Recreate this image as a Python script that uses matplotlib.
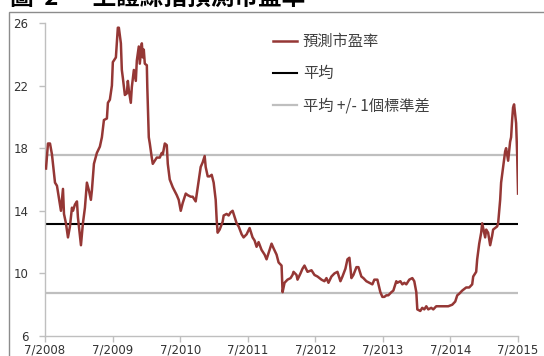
import matplotlib
matplotlib.use("Agg")
import matplotlib.pyplot as plt
from matplotlib.patches import Rectangle

plt.rcParams['font.family'] = ['Noto Sans CJK TC', 'DejaVu Sans']

# decimal year of each reading and forward P/E
years = [2008.515, 2008.544, 2008.574, 2008.603, 2008.648, 2008.677, 2008.707, 2008.736, 2008.766, 2008.781,
         2008.810, 2008.840, 2008.869, 2008.899, 2008.914, 2008.943, 2008.973, 2008.987, 2009.032, 2009.061,
         2009.091, 2009.120, 2009.150, 2009.179, 2009.194, 2009.224, 2009.268, 2009.312, 2009.342, 2009.372,
         2009.416, 2009.431, 2009.460, 2009.490, 2009.504, 2009.549, 2009.578, 2009.593, 2009.623, 2009.637,
         2009.652, 2009.682, 2009.711, 2009.726, 2009.741, 2009.770, 2009.785, 2009.815, 2009.844, 2009.859,
         2009.888, 2009.903, 2009.933, 2009.948, 2009.962, 2009.977, 2010.007, 2010.014, 2010.036, 2010.051,
         2010.080, 2010.095, 2010.125, 2010.154, 2010.199, 2010.228, 2010.243, 2010.273, 2010.302, 2010.317,
         2010.346, 2010.391, 2010.450, 2010.479, 2010.509, 2010.538, 2010.583, 2010.612, 2010.657, 2010.686,
         2010.730, 2010.760, 2010.804, 2010.834, 2010.863, 2010.878, 2010.908, 2010.937, 2010.967, 2010.996,
         2011.026, 2011.041, 2011.055, 2011.085, 2011.129, 2011.144, 2011.188, 2011.218, 2011.247, 2011.277,
         2011.306, 2011.336, 2011.366, 2011.410, 2011.439, 2011.484, 2011.528, 2011.572, 2011.602, 2011.631,
         2011.661, 2011.705, 2011.750, 2011.779, 2011.809, 2011.853, 2011.883, 2011.927, 2011.957, 2012.001,
         2012.016, 2012.045, 2012.089, 2012.134, 2012.163, 2012.178, 2012.222, 2012.237, 2012.281, 2012.311,
         2012.340, 2012.385, 2012.444, 2012.488, 2012.533, 2012.592, 2012.636, 2012.665, 2012.695, 2012.739,
         2012.784, 2012.828, 2012.872, 2012.902, 2012.946, 2012.976, 2013.005, 2013.035, 2013.064, 2013.109,
         2013.138, 2013.182, 2013.212, 2013.256, 2013.301, 2013.345, 2013.374, 2013.419, 2013.463, 2013.493,
         2013.522, 2013.552, 2013.581, 2013.626, 2013.655, 2013.699, 2013.714, 2013.759, 2013.788, 2013.818,
         2013.847, 2013.891, 2013.936, 2013.965, 2013.995, 2014.010, 2014.054, 2014.083, 2014.113, 2014.143,
         2014.172, 2014.216, 2014.246, 2014.290, 2014.320, 2014.379, 2014.423, 2014.468, 2014.527, 2014.571,
         2014.601, 2014.630, 2014.674, 2014.733, 2014.778, 2014.822, 2014.837, 2014.881, 2014.896, 2014.926,
         2014.955, 2014.970, 2014.985, 2015.014, 2015.029, 2015.058, 2015.088, 2015.117, 2015.132, 2015.162,
         2015.191, 2015.206, 2015.236, 2015.250, 2015.280, 2015.310, 2015.324, 2015.354, 2015.383, 2015.398,
         2015.413, 2015.427, 2015.442, 2015.472, 2015.487, 2015.501]

pe = [16.7, 18.3, 18.3, 17.6, 15.8, 15.6, 14.8, 14.0, 15.4, 13.8,
      13.2, 12.3, 13.0, 14.2, 14.0, 14.4, 14.6, 13.6, 11.8, 13.2,
      14.2, 15.8, 15.3, 14.7, 15.3, 17.0, 17.7, 18.1, 18.7, 19.8,
      19.9, 20.9, 21.1, 22.0, 23.5, 23.8, 25.7, 25.7, 24.7, 23.0,
      22.5, 21.4, 21.5, 22.3, 21.7, 20.9, 21.9, 23.0, 22.3, 23.6,
      24.5, 23.4, 24.7, 23.8, 24.3, 23.4, 23.3, 21.9, 18.7, 18.3,
      17.4, 17.0, 17.2, 17.4, 17.4, 17.7, 17.6, 18.3, 18.2, 17.0,
      16.0, 15.5, 15.0, 14.7, 14.0, 14.5, 15.1, 15.0, 14.9, 14.9,
      14.6, 15.5, 16.8, 17.1, 17.5, 16.8, 16.2, 16.2, 16.3, 15.8,
      14.7, 13.4, 12.6, 12.8, 13.3, 13.7, 13.8, 13.7, 13.9, 14.0,
      13.6, 13.2, 13.0, 12.5, 12.3, 12.5, 12.9, 12.3, 12.1, 11.7,
      12.0, 11.5, 11.2, 10.9, 11.3, 11.9, 11.6, 11.2, 10.7, 10.5,
      8.8, 9.4, 9.6, 9.7, 9.9, 10.1, 9.9, 9.6, 10.0, 10.3,
      10.5, 10.1, 10.2, 9.9, 9.8, 9.6, 9.5, 9.7, 9.4, 9.8,
      10.0, 10.1, 9.5, 9.8, 10.3, 10.9, 11.0, 9.7, 9.9, 10.4,
      10.4, 9.8, 9.7, 9.5, 9.4, 9.3, 9.6, 9.6, 8.8, 8.5,
      8.5, 8.6, 8.6, 8.8, 8.9, 9.5, 9.4, 9.5, 9.3, 9.4,
      9.3, 9.6, 9.7, 9.5, 8.8, 7.7, 7.6, 7.8, 7.7, 7.9,
      7.7, 7.8, 7.7, 7.9, 7.9, 7.9, 7.9, 7.9, 8.0, 8.2,
      8.6, 8.7, 8.9, 9.1, 9.1, 9.3, 9.8, 10.1, 10.9, 11.9,
      12.6, 13.2, 12.9, 12.3, 12.8, 12.6, 11.8, 12.4, 12.8, 12.9,
      13.0, 13.2, 14.7, 15.8, 16.8, 17.8, 18.0, 17.2, 18.4, 18.7,
      19.8, 20.6, 20.8, 19.6, 17.7, 15.1]

pe_mean = 13.15
pe_std = 4.4

tick_years = [2008.5, 2009.5, 2010.5, 2011.5, 2012.5, 2013.5, 2014.5, 2015.5]
tick_labels = ["7/2008", "7/2009", "7/2010", "7/2011", "7/2012", "7/2013", "7/2014", "7/2015"]
y_ticks = [6, 10, 14, 18, 22, 26]

W, H = 544, 356
fig = plt.figure(figsize=(W / 100, H / 100), dpi=100)
ax = fig.add_axes([45 / W, 1 - 336 / H, (518 - 45) / W, (336 - 23) / H])

red = "#953735"
grey = "#bfbfbf"

ax.plot(years, pe, color=red, lw=1.8, label="預測市盈率", zorder=3)
ax.plot([tick_years[0], tick_years[-1]], [pe_mean, pe_mean], color="black", lw=1.5, label="平均", zorder=2)
ax.plot([tick_years[0], tick_years[-1]], [pe_mean + pe_std] * 2, color=grey, lw=1.6,
        label="平均 +/- 1個標準差", zorder=1)
ax.plot([tick_years[0], tick_years[-1]], [pe_mean - pe_std] * 2, color=grey, lw=1.6, zorder=1)

ax.set_xlim(tick_years[0], tick_years[-1])
ax.set_ylim(6, 26)
ax.set_xticks(tick_years)
ax.set_xticklabels(tick_labels, family="DejaVu Sans")
ax.set_yticks(y_ticks)
ax.set_yticklabels([str(v) for v in y_ticks], family="DejaVu Sans")
ax.tick_params(axis="both", colors=grey, labelcolor="#333333", labelsize=8.5, length=4, width=1)
ax.tick_params(axis="x", pad=1.5)
ax.tick_params(axis="y", pad=8)
for s in ["top", "right"]:
    ax.spines[s].set_visible(False)
for s in ["left", "bottom"]:
    ax.spines[s].set_color(grey)
    ax.spines[s].set_linewidth(1)

ax.legend(loc="upper left", bbox_to_anchor=(273 / W, 1 - 33 / H), bbox_transform=fig.transFigure,
          frameon=False, fontsize=11, handlelength=1.6, handletextpad=0.35, labelspacing=1.0,
          borderpad=0, borderaxespad=0, labelcolor="#404040")

# outer frame of the exhibit and the clipped title above it
fig.add_artist(Rectangle((9 / W, -0.1), 1.2, 1 - 11.5 / H + 0.1, transform=fig.transFigure,
                         fill=False, edgecolor="#8c8c8c", lw=1))
fig.text(10 / W, 1 - 5 / H, "圖  2  –  上證綜指預測市盈率", fontsize=17, fontweight="bold",
         va="baseline", ha="left", color="black")

fig.savefig("out.png", dpi=100)
